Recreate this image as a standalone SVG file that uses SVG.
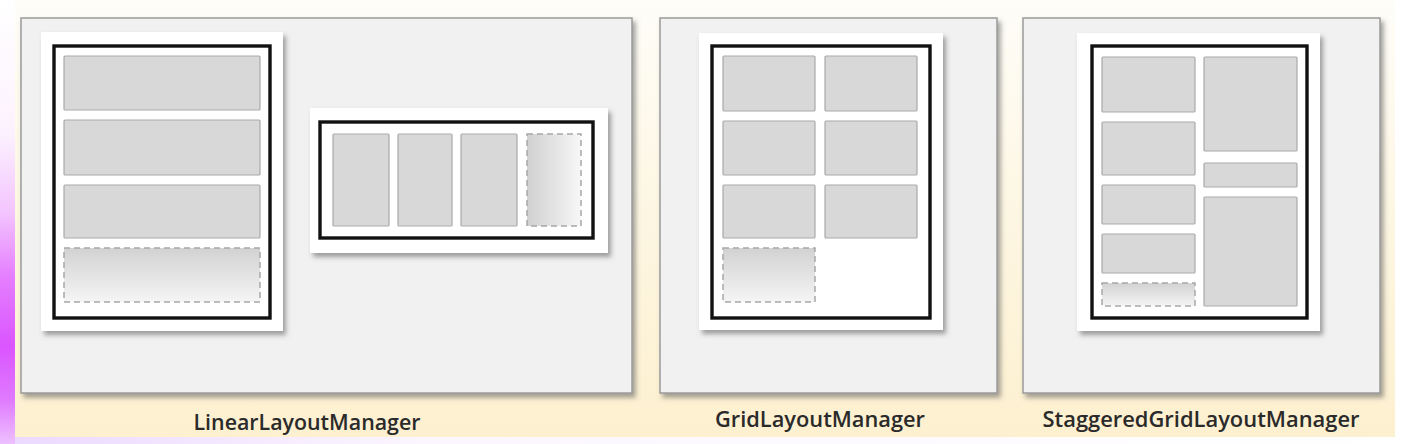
<svg xmlns="http://www.w3.org/2000/svg" width="1404" height="444" viewBox="0 0 1404 444">
<defs>
<linearGradient id="bg" x1="0" y1="0" x2="0" y2="1">
<stop offset="0" stop-color="#fefdf8"/>
<stop offset="0.5" stop-color="#fdf6e2"/>
<stop offset="1" stop-color="#fdf0cf"/>
</linearGradient>
<linearGradient id="purple" x1="0" y1="0" x2="0" y2="1">
<stop offset="0" stop-color="#ffffff"/>
<stop offset="0.3" stop-color="#fcf2ff"/>
<stop offset="0.48" stop-color="#f3c4ff"/>
<stop offset="0.62" stop-color="#e580ff"/>
<stop offset="0.78" stop-color="#da55ff"/>
<stop offset="0.9" stop-color="#e07aff"/>
<stop offset="1" stop-color="#eec0ff"/>
</linearGradient>
<linearGradient id="bottom" x1="0" y1="0" x2="1" y2="0">
<stop offset="0" stop-color="#ecd8ff"/>
<stop offset="0.3" stop-color="#fbf6ff"/>
<stop offset="1" stop-color="#ffffff"/>
</linearGradient>
<linearGradient id="fadeV" x1="0" y1="0" x2="0" y2="1">
<stop offset="0" stop-color="#d2d2d2"/>
<stop offset="1" stop-color="#f5f5f5"/>
</linearGradient>
<linearGradient id="fadeH" x1="0" y1="0" x2="1" y2="0">
<stop offset="0" stop-color="#d0d0d0"/>
<stop offset="1" stop-color="#f7f7f7"/>
</linearGradient>
<filter id="sh" x="-5%" y="-5%" width="115%" height="115%">
<feDropShadow dx="3" dy="4" stdDeviation="2.5" flood-color="#555" flood-opacity="0.55"/>
</filter>
</defs>
<style>
.panel{fill:#f1f1f1;stroke:#9a9a9a;stroke-width:1.5}
.card{fill:#ffffff}
.frame{fill:none;stroke:#111;stroke-width:3.4}
.item{fill:#d8d8d8;stroke:#a9a9a9;stroke-width:1.2}
.dash{stroke:#a8a8a8;stroke-width:1.5;stroke-dasharray:6 4}
.label{font-family:"Open Sans","Noto Sans",sans-serif;font-weight:600;font-size:21.5px;fill:#2a2a2a;text-anchor:middle}
</style>
<rect x="0" y="0" width="1404" height="444" fill="url(#bg)"/>
<rect x="1395" y="0" width="9" height="444" fill="#ffffff"/>
<rect x="0" y="437" width="1404" height="7" fill="url(#bottom)"/>
<rect x="0" y="0" width="15" height="444" fill="url(#purple)"/>

<g id="linear">
<rect class="panel" x="21" y="18" width="611" height="375" filter="url(#sh)"/>
<g id="linear-vertical">
<rect class="card" x="41" y="32" width="242" height="299" filter="url(#sh)"/>
<rect class="frame" x="54" y="46" width="216" height="272"/>
<rect class="item" x="64" y="56" width="196" height="54" rx="1"/>
<rect class="item" x="64" y="120" width="196" height="55" rx="1"/>
<rect class="item" x="64" y="185" width="196" height="53" rx="1"/>
<rect class="dash" x="64" y="248" width="196" height="54" fill="url(#fadeV)"/>
</g>
<g id="linear-horizontal">
<rect class="card" x="310" y="108" width="298" height="145" filter="url(#sh)"/>
<rect class="frame" x="320" y="122" width="273" height="116"/>
<rect class="item" x="333" y="134" width="56" height="92" rx="1"/>
<rect class="item" x="398" y="134" width="54" height="92" rx="1"/>
<rect class="item" x="461" y="134" width="56" height="92" rx="1"/>
<rect class="dash" x="527" y="134" width="54" height="92" fill="url(#fadeH)"/>
</g>
<text class="label" x="307" y="430" textLength="227" lengthAdjust="spacingAndGlyphs">LinearLayoutManager</text>
</g>

<g id="grid">
<rect class="panel" x="660" y="18" width="337" height="375" filter="url(#sh)"/>
<rect class="card" x="699" y="33" width="244" height="297" filter="url(#sh)"/>
<rect class="frame" x="712" y="46" width="218" height="272"/>
<rect class="item" x="723" y="56" width="92" height="55" rx="1"/>
<rect class="item" x="825" y="56" width="92" height="55" rx="1"/>
<rect class="item" x="723" y="121" width="92" height="54" rx="1"/>
<rect class="item" x="825" y="121" width="92" height="54" rx="1"/>
<rect class="item" x="723" y="185" width="92" height="53" rx="1"/>
<rect class="item" x="825" y="185" width="92" height="53" rx="1"/>
<rect class="dash" x="723" y="248" width="92" height="54" fill="url(#fadeV)"/>
<text class="label" x="820" y="427" textLength="210" lengthAdjust="spacingAndGlyphs">GridLayoutManager</text>
</g>

<g id="staggered">
<rect class="panel" x="1023" y="18" width="357" height="375" filter="url(#sh)"/>
<rect class="card" x="1077" y="33" width="243" height="298" filter="url(#sh)"/>
<rect class="frame" x="1092" y="46" width="215" height="272"/>
<rect class="item" x="1102" y="57" width="93" height="55" rx="1"/>
<rect class="item" x="1102" y="122" width="93" height="53" rx="1"/>
<rect class="item" x="1102" y="185" width="93" height="39" rx="1"/>
<rect class="item" x="1102" y="234" width="93" height="39" rx="1"/>
<rect class="dash" x="1102" y="283" width="93" height="23" fill="url(#fadeV)"/>
<rect class="item" x="1204" y="57" width="93" height="94" rx="1"/>
<rect class="item" x="1204" y="163" width="93" height="24" rx="1"/>
<rect class="item" x="1204" y="197" width="93" height="109" rx="1"/>
<text class="label" x="1201" y="427" textLength="317" lengthAdjust="spacingAndGlyphs">StaggeredGridLayoutManager</text>
</g>
</svg>
